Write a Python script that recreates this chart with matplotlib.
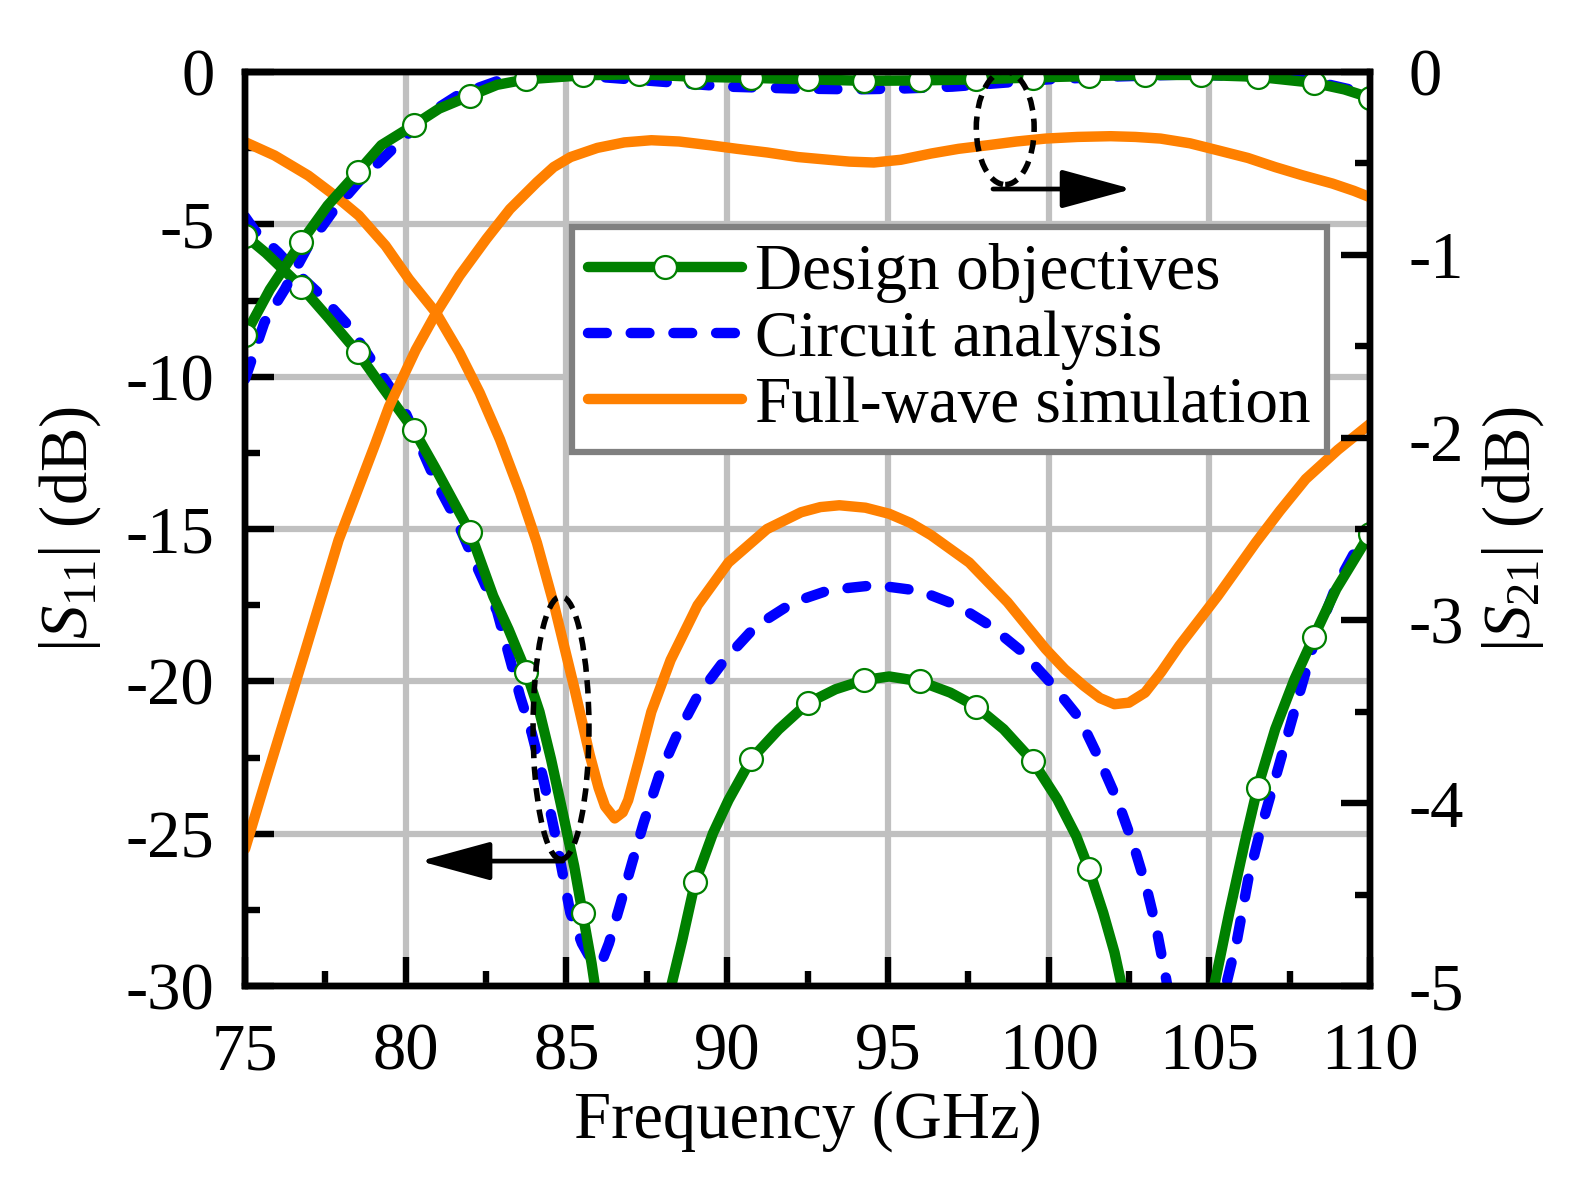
import numpy as np
import matplotlib
matplotlib.use('Agg')
import matplotlib.pyplot as plt
from matplotlib.lines import Line2D
from matplotlib.patches import Ellipse
from matplotlib.ticker import MultipleLocator

# ---- Design objectives (green, markers every 1.75 GHz) ----
obj_f = [75.0, 75.65, 76.75, 77.57, 78.5, 79.24, 80.25, 80.92, 82.0, 82.72, 83.2, 83.75,
         84.16, 84.52, 84.88, 85.24, 85.5, 85.78, 85.9, 86.3, 87.25, 88.0, 88.24, 88.6,
         89.0, 89.56, 90.04, 90.75, 91.6, 92.5, 93.37, 94.25, 95.04, 96.0, 96.94, 97.75,
         98.6, 99.5, 100.27, 100.86, 101.25, 101.7, 102.05, 102.29, 102.6, 103.9, 104.85,
         105.14, 105.62, 106.1, 106.5, 107.05, 107.65, 108.25, 108.95, 110.0]
obj_s11 = [-5.37, -5.94, -7.05, -8.04, -9.2, -10.3, -11.75, -13.0, -15.1, -17.2, -18.3, -19.7,
           -21.0, -22.56, -24.3, -26.07, -27.6, -29.25, -30.1, -33.0, -40.0, -33.0, -30.08, -28.5,
           -26.6, -24.98, -23.9, -22.55, -21.58, -20.72, -20.26, -19.96, -19.84, -20.0, -20.37, -20.83,
           -21.57, -22.61, -23.87, -25.08, -26.15, -27.6, -28.9, -30.06, -32.5, -40.0, -32.5,
           -30.06, -27.6, -25.3, -23.5, -21.57, -19.93, -18.54, -16.97, -15.15]
obj_s21_f = [75.0, 75.77, 76.75, 77.57, 78.5, 79.24, 80.25, 81.04, 82.0, 82.84, 83.75, 85.5,
             87.25, 89.0, 90.75, 92.5, 94.25, 96.0, 97.75, 99.5, 101.25, 103.0, 104.75,
             106.5, 108.25, 109.2, 110.0]
obj_s21 = [-1.44, -1.19, -0.93, -0.73, -0.548, -0.40, -0.29, -0.20, -0.13, -0.07, -0.04, -0.018,
           -0.012, -0.026, -0.032, -0.04, -0.048, -0.046, -0.04, -0.03, -0.022, -0.016, -0.016,
           -0.026, -0.059, -0.095, -0.14]
mk_f = [75.0, 76.75, 78.5, 80.25, 82.0, 83.75, 85.5, 87.25, 89.0, 90.75, 92.5, 94.25,
        96.0, 97.75, 99.5, 101.25, 103.0, 104.75, 106.5, 108.25, 110.0]
mk_s11 = [-5.37, -7.05, -9.2, -11.75, -15.1, -19.7, -27.6, np.nan, -26.6, -22.55, -20.72, -19.96,
          -20.0, -20.83, -22.61, -26.15, np.nan, np.nan, -23.5, -18.54, -15.15]
mk_s21 = [-1.44, -0.93, -0.548, -0.29, -0.13, -0.04, -0.018, -0.012, -0.026, -0.032, -0.04, -0.048,
          -0.046, -0.04, -0.03, -0.022, -0.016, -0.016, -0.026, -0.059, -0.14]

# ---- Circuit analysis (blue dashed) ----
cir_f = [75.0, 75.3, 76.03, 76.73, 77.33, 78.22, 79.06, 79.9, 80.94, 81.57, 82.24, 82.84,
         83.2, 83.56, 83.92, 84.28, 84.64, 84.88, 85.12, 85.48, 85.8, 85.95, 86.1, 86.32,
         86.68, 87.04, 87.4, 87.88, 88.42, 89.08, 89.92, 90.88, 92.07, 93.19, 94.62, 95.99,
         97.18, 98.19, 99.2, 100.15, 100.98, 101.58, 102.17, 102.65, 103.06, 103.36, 103.66,
         103.85, 104.6, 105.35, 105.56, 105.86, 106.21, 106.57, 107.05, 107.64, 108.24,
         108.95, 109.5, 110.0]
cir_s11 = [-4.75, -5.2, -5.92, -6.71, -7.3, -8.33, -9.65, -10.96, -13.45, -14.7, -16.3, -17.7,
           -19.1, -20.5, -21.7, -23.2, -24.98, -26.3, -27.6, -28.6, -29.2, -29.3, -29.2, -28.6,
           -27.3, -25.96, -24.65, -23.1, -21.8, -20.48, -19.3, -18.2, -17.4, -17.0, -16.84, -17.03,
           -17.52, -18.18, -19.05, -20.15, -21.24, -22.56, -23.98, -25.4, -26.83, -28.14, -29.79,
           -31.0, -36.0, -31.0, -29.8, -28.5, -26.5, -24.97, -23.2, -21.0, -18.8,
           -16.86, -15.8, -14.95]
cir_s21_f = [75.0, 75.6, 76.23, 76.97, 77.7, 78.54, 79.48, 80.7, 81.64, 82.84, 84.0, 85.5,
             87.0, 88.5, 90.0, 92.0, 94.0, 95.5, 97.0, 98.5, 100.0, 102.0, 104.0, 106.0,
             108.0, 110.0]
cir_s21 = [-1.68, -1.37, -1.19, -0.95, -0.77, -0.6, -0.44, -0.23, -0.125, -0.05, -0.02, -0.02,
           -0.04, -0.06, -0.08, -0.09, -0.095, -0.09, -0.08, -0.06, -0.04, -0.025, -0.015, -0.02,
           -0.04, -0.12]

# ---- Full-wave simulation (orange) ----
fw_f = [75.0, 75.92, 76.97, 77.8, 78.54, 79.37, 80.1, 80.94, 81.67, 82.3, 82.93, 83.56,
        84.08, 84.64, 85.24, 85.72, 86.0, 86.2, 86.5, 86.75, 86.92, 87.25, 87.64, 88.24,
        89.08, 90.04, 91.24, 92.3, 92.9, 93.49, 94.3, 95.04, 95.7, 96.34, 97.53, 98.72,
        99.91, 100.5, 101.1, 101.6, 102.05, 102.5, 103.0, 103.5, 104.07, 105.26, 106.45,
        107.2, 108.0, 109.0, 110.0]
fw_s11 = [-2.3, -2.74, -3.4, -4.06, -4.71, -5.7, -6.8, -7.9, -9.21, -10.53, -12.06, -13.82,
          -15.45, -17.6, -20.2, -22.4, -23.5, -24.1, -24.5, -24.3, -23.9, -22.6, -21.0, -19.3,
          -17.5, -16.1, -15.0, -14.45, -14.28, -14.22, -14.3, -14.5, -14.8, -15.2, -16.1, -17.4,
          -18.94, -19.6, -20.15, -20.55, -20.75, -20.7, -20.37, -19.7, -18.83, -17.2, -15.44,
          -14.4, -13.36, -12.4, -11.55]
fw_s21_f = [75.0, 75.65, 76.85, 77.91, 78.54, 79.06, 79.48, 80.31, 80.94, 81.67, 82.51, 83.24,
            84.08, 84.6, 85.13, 85.96, 86.8, 87.64, 88.5, 89.44, 90.3, 91.24, 92.2, 93.15, 93.8,
            94.56, 95.4, 96.34, 97.2, 98.13, 99.0, 99.91, 100.9, 101.93, 102.7, 103.48, 104.4,
            105.26, 106.2, 107.05, 107.9, 108.83, 109.5, 110.0]
fw_s21 = [-4.25, -3.87, -3.18, -2.56, -2.27, -2.03, -1.83, -1.52, -1.32, -1.115, -0.913, -0.75,
          -0.603, -0.52, -0.465, -0.415, -0.385, -0.373, -0.38, -0.40, -0.42, -0.44, -0.465, -0.48,
          -0.49, -0.495, -0.48, -0.446, -0.42, -0.40, -0.38, -0.364, -0.355, -0.351, -0.355,
          -0.364, -0.39, -0.428, -0.47, -0.52, -0.565, -0.61, -0.65, -0.685]

x_ticks = [75, 80, 85, 90, 95, 100, 105, 110]
s11_ticks = [0, -5, -10, -15, -20, -25, -30]
s21_ticks = [0, -1, -2, -3, -4, -5]
labels = ['Design objectives', 'Circuit analysis', 'Full-wave simulation']

plt.rcParams['font.family'] = ['Liberation Serif', 'DejaVu Serif']
plt.rcParams['mathtext.fontset'] = 'custom'
plt.rcParams['mathtext.rm'] = 'Liberation Serif'
plt.rcParams['mathtext.it'] = 'Liberation Serif:italic'
plt.rcParams['axes.unicode_minus'] = False
plt.rcParams['font.size'] = 48

GREEN = '#008000'
BLUE = '#0000ff'
ORANGE = '#ff8000'
LW = 7.5
MS = 16.5
DASH = (1.8, 2.3)

fig = plt.figure(figsize=(15.76, 11.79), dpi=100)
ax = fig.add_axes([0.1555, 0.1637, 0.7138, 0.7752])
ax2 = ax.twinx()

# S11 on the left axis
ax.plot(cir_f, cir_s11, color=BLUE, lw=LW, dashes=DASH, dash_capstyle='round')
ax.plot(obj_f, obj_s11, color=GREEN, lw=LW, solid_capstyle='round')
ax.plot(mk_f, mk_s11, 'o', ms=MS, mfc='white', mec=GREEN, mew=1.6)
ax.plot(fw_f, fw_s11, color=ORANGE, lw=LW, solid_capstyle='round')

# S21 on the right axis
ax2.plot(cir_s21_f, cir_s21, color=BLUE, lw=LW, dashes=DASH, dash_capstyle='round')
ax2.plot(obj_s21_f, obj_s21, color=GREEN, lw=LW, solid_capstyle='round')
ax2.plot(mk_f, mk_s21, 'o', ms=MS, mfc='white', mec=GREEN, mew=1.6)
ax2.plot(fw_s21_f, fw_s21, color=ORANGE, lw=LW, solid_capstyle='round')

ax.set_xlim(75, 110)
ax.set_ylim(-30, 0)
ax2.set_ylim(-5, 0)

ax.set_xticks(x_ticks)
ax.set_xticklabels([str(t) for t in x_ticks])
ax.set_yticks(s11_ticks)
ax.set_yticklabels([str(t) for t in s11_ticks])
ax2.set_yticks(s21_ticks)
ax2.set_yticklabels([str(t) for t in s21_ticks])
ax.xaxis.set_minor_locator(MultipleLocator(2.5))
ax.yaxis.set_minor_locator(MultipleLocator(2.5))
ax2.yaxis.set_minor_locator(MultipleLocator(0.5))

ax.grid(True, which='major', color='#c0c0c0', lw=4.5)
ax.set_axisbelow(True)

for a in (ax, ax2):
    for s in a.spines.values():
        s.set_linewidth(4.6)
ax.tick_params(which='both', direction='in', width=4.6, top=False, right=False)
ax.tick_params(which='major', length=21)
ax.tick_params(which='minor', length=11)
ax.tick_params(axis='x', pad=26)
ax.tick_params(axis='y', pad=22)
ax2.tick_params(which='both', direction='in', width=4.6)
ax2.tick_params(which='major', length=21, pad=28)
ax2.tick_params(which='minor', length=11)

ax.set_xlabel('Frequency (GHz)', labelpad=5)
ax.set_ylabel(r'|$S_{11}$| (dB)', labelpad=16)
ax2.set_ylabel(r'|$S_{21}$| (dB)', labelpad=11)

# annotations (in S11 coordinates, drawn above all curves)
ell1 = Ellipse((84.83, -21.53), 1.74, 8.63, fill=False, ec='black', lw=4,
               ls=(0, (2.4, 1.5)), transform=ax.transData, zorder=5)
ell2 = Ellipse((98.65, -1.84), 1.8, 3.71, fill=False, ec='black', lw=4,
               ls=(0, (2.4, 1.5)), transform=ax.transData, zorder=5)
ax2.add_patch(ell1)
ax2.add_patch(ell2)
arrow_kw = dict(arrowstyle='-|>,head_length=2.2,head_width=0.6', mutation_scale=20,
                color='black', lw=3.4, shrinkA=0, shrinkB=0)
ax2.annotate('', xy=(80.44, -25.9), xytext=(84.89, -25.9), xycoords=ax.transData,
             textcoords=ax.transData, arrowprops=arrow_kw, zorder=5)
ax2.annotate('', xy=(102.6, -3.84), xytext=(98.27, -3.84), xycoords=ax.transData,
             textcoords=ax.transData, arrowprops=arrow_kw, zorder=5)

handles = [Line2D([], [], color=GREEN, lw=LW, marker='o', ms=MS, mfc='white', mec=GREEN,
                  mew=1.6, solid_capstyle='round'),
           Line2D([], [], color=BLUE, lw=LW, dashes=DASH, dash_capstyle='round'),
           Line2D([], [], color=ORANGE, lw=LW, solid_capstyle='round')]
leg = ax2.legend(handles, labels, loc='upper left', bbox_to_anchor=(0.2907, 0.8304),
                 borderaxespad=0, borderpad=0.25, handlelength=2.35, handletextpad=0.2,
                 labelspacing=0.1, fancybox=False, framealpha=1, edgecolor='#808080',
                 fontsize=47)
leg.get_frame().set_linewidth(4.5)

fig.savefig('out.png', dpi=100)
